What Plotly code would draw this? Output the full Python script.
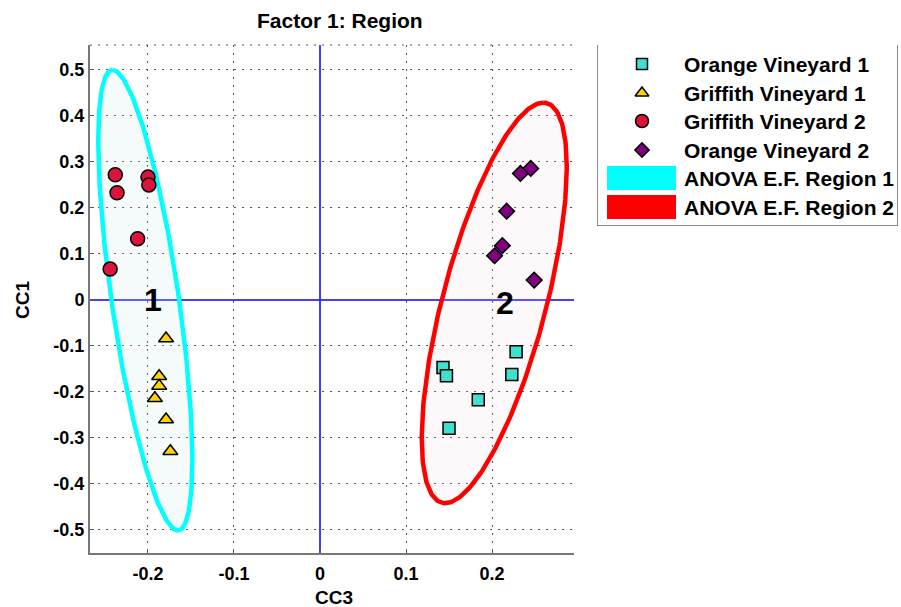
import numpy as np
import plotly.graph_objects as go

# ---------------- data ----------------
ov1_x = [0.228, 0.143, 0.147, 0.223, 0.184, 0.150]
ov1_y = [-0.113, -0.147, -0.165, -0.162, -0.217, -0.279]
gv1_x = [-0.179, -0.187, -0.187, -0.192, -0.179, -0.174]
gv1_y = [-0.084, -0.166, -0.187, -0.214, -0.260, -0.329]
gv2_x = [-0.238, -0.236, -0.200, -0.199, -0.212, -0.244]
gv2_y = [0.272, 0.233, 0.267, 0.250, 0.133, 0.067]
ov2_x = [0.245, 0.233, 0.217, 0.212, 0.203, 0.249]
ov2_y = [0.286, 0.275, 0.193, 0.118, 0.096, 0.043]

series_names = ["Orange Vineyard 1", "Griffith Vineyard 1", "Griffith Vineyard 2", "Orange Vineyard 2"]
region_names = ["ANOVA E.F. Region 1", "ANOVA E.F. Region 2"]
region_labels = ["1", "2"]

# ellipse (confidence region) parameters: centre, half-extents, phase
ell_cx = [-0.2031, 0.2026]
ell_cy = [-0.0007, -0.0065]
ell_ax = [0.0547, 0.0843]
ell_ay = [0.5007, 0.4355]
ell_phase_deg = [133.9, 47.4]

x_tickvals = [-0.2, -0.1, 0, 0.1, 0.2]
x_ticktext = ["-0.2", "-0.1", "0", "0.1", "0.2"]
y_tickvals = [0.5, 0.4, 0.3, 0.2, 0.1, 0, -0.1, -0.2, -0.3, -0.4, -0.5]
y_ticktext = ["0.5", "0.4", "0.3", "0.2", "0.1", "0", "-0.1", "-0.2", "-0.3", "-0.4", "-0.5"]

# ---------------- styles ----------------
FONT = "Liberation Sans, Arial, sans-serif"
marker_styles = [
    dict(symbol="square", size=12, color="#40E0D0"),
    dict(symbol="triangle-up", size=13, color="#FFD200"),
    dict(symbol="circle", size=14, color="#DC143C"),
    dict(symbol="diamond", size=12, color="#800080"),
]
ell_line = ["#00FFFF", "#FF0000"]
ell_fill = ["rgba(200,235,235,0.18)", "rgba(240,205,215,0.15)"]

fig = go.Figure()

# ellipses
t = np.linspace(0, 2 * np.pi, 300)
for i in range(2):
    ph = np.deg2rad(ell_phase_deg[i])
    ex = ell_cx[i] + ell_ax[i] * np.cos(t + ph)
    ey = ell_cy[i] + ell_ay[i] * np.cos(t)
    fig.add_trace(go.Scatter(x=ex, y=ey, mode="lines", fill="toself",
                             fillcolor=ell_fill[i],
                             line=dict(color=ell_line[i], width=4.5),
                             name=region_names[i], hoverinfo="skip"))

# points
for xs, ys, nm, ms in zip([ov1_x, gv1_x, gv2_x, ov2_x], [ov1_y, gv1_y, gv2_y, ov2_y],
                          series_names, marker_styles):
    fig.add_trace(go.Scatter(x=xs, y=ys, mode="markers", name=nm,
                             marker=dict(symbol=ms["symbol"], size=ms["size"], color=ms["color"],
                                         line=dict(color="black", width=1.5))))

# ---------- manual legend on a helper axis (pixel-like units) ----------
leg_rows = [64, 93, 121, 150, 178, 207]
for i, (nm, ms) in enumerate(zip(series_names, marker_styles)):
    fig.add_trace(go.Scatter(x=[642], y=[leg_rows[i]], xaxis="x2", yaxis="y2", mode="markers",
                             showlegend=False, hoverinfo="skip", cliponaxis=False,
                             marker=dict(symbol=ms["symbol"], size=ms["size"] - 1, color=ms["color"],
                                         line=dict(color="black", width=1.5))))

annotations = []
shapes = []
for i, nm in enumerate(series_names + region_names):
    annotations.append(dict(x=682, y=leg_rows[i], xref="x2", yref="y2", text=nm, showarrow=False,
                            xanchor="left", yanchor="middle",
                            font=dict(family=FONT, size=21, color="black", weight="bold")))
for i in range(2):
    y = leg_rows[4 + i]
    shapes.append(dict(type="rect", xref="x2", yref="y2", x0=607, x1=676, y0=y - 12, y1=y + 12,
                       fillcolor=ell_line[i], line=dict(width=0), layer="above"))
shapes.append(dict(type="rect", xref="x2", yref="y2", x0=597, x1=898, y0=44, y1=226,
                   line=dict(color="#666666", width=1.5), fillcolor="rgba(0,0,0,0)"))

# top dotted border of the axes
shapes.append(dict(type="line", xref="paper", yref="paper", x0=0, x1=484 / 811, y0=1, y1=1,
                   line=dict(color="#555555", width=1, dash="2px,6px"), layer="below"))

# region labels
for i in range(2):
    annotations.append(dict(x=[-0.194, 0.215][i], y=[0.0, -0.006][i], xref="x", yref="y",
                            text=region_labels[i], showarrow=False,
                            font=dict(family=FONT, size=32, color="black", weight="bold")))

# title and axis titles
annotations.append(dict(x=(340 - 90) / 811, y=(553 - 20) / 508, xref="paper", yref="paper",
                        text="Factor 1: Region", showarrow=False, xanchor="center", yanchor="middle",
                        font=dict(family=FONT, size=21, color="black", weight="bold")))
annotations.append(dict(x=(334 - 90) / 811, y=(553 - 597) / 508, xref="paper", yref="paper",
                        text="CC3", showarrow=False, xanchor="center", yanchor="middle",
                        font=dict(family=FONT, size=19, color="black", weight="bold")))
annotations.append(dict(x=(22 - 90) / 811, y=(553 - 300) / 508, xref="paper", yref="paper",
                        text="CC1", showarrow=False, textangle=-90, xanchor="center", yanchor="middle",
                        font=dict(family=FONT, size=19, color="black", weight="bold")))

axis_common = dict(showline=True, linecolor="#777777", linewidth=2, mirror=False,
                   ticks="inside", ticklen=4, tickcolor="#555555", tickwidth=1,
                   showgrid=True, gridcolor="#555555", gridwidth=1, griddash="2px,6px",
                   zeroline=True, zerolinecolor="rgba(30,30,255,0.85)", zerolinewidth=1.5,
                   tickfont=dict(family=FONT, size=18, color="black", weight="bold"))

fig.update_layout(
    width=901, height=607,
    margin=dict(l=90, r=0, t=45, b=54),
    plot_bgcolor="white", paper_bgcolor="white",
    showlegend=False,
    xaxis=dict(domain=[0, 484 / 811], range=[-0.2674, 0.2953], tickvals=x_tickvals,
               ticktext=x_ticktext, ticklabelstandoff=3, **axis_common),
    yaxis=dict(domain=[0, 1], range=[-0.5504, 0.5543], tickvals=y_tickvals,
               ticktext=y_ticktext, **axis_common),
    xaxis2=dict(domain=[507 / 811, 808 / 811], range=[597, 898], visible=False, fixedrange=True),
    yaxis2=dict(domain=[(553 - 226) / 508, 1], range=[226, 45], visible=False, fixedrange=True),
    annotations=annotations,
    shapes=shapes,
)

fig.write_html("out.html",
               config={"displayModeBar": False},
               post_script="document.body.style.margin='0';document.body.style.padding='0';"
                           "document.body.style.overflow='hidden';")
